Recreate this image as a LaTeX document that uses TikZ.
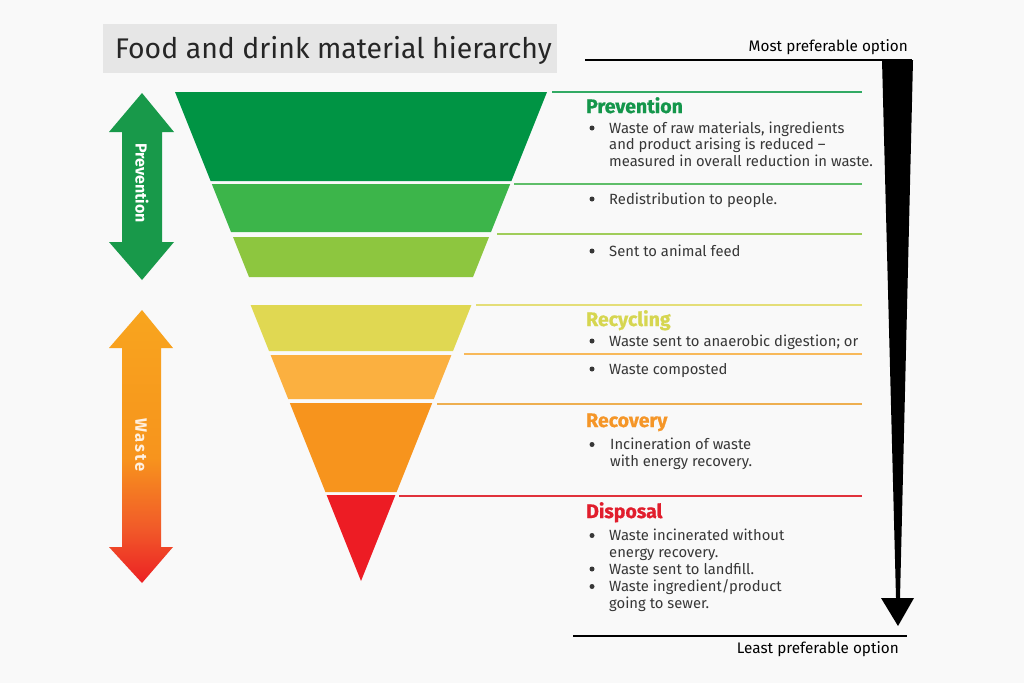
\documentclass[tikz,border=0pt]{standalone}
\usepackage{fontspec}
\setmainfont{Fira Sans}
\definecolor{paper}{RGB}{249,249,249}
\definecolor{titlebg}{RGB}{230,230,230}
\definecolor{bodytxt}{RGB}{55,55,55}
\definecolor{bandA}{RGB}{0,148,68}
\definecolor{bandB}{RGB}{60,181,74}
\definecolor{bandC}{RGB}{141,198,63}
\definecolor{bandD}{RGB}{224,216,82}
\definecolor{bandE}{RGB}{251,176,64}
\definecolor{bandF}{RGB}{247,148,29}
\definecolor{bandG}{RGB}{237,28,36}
\definecolor{ruleA}{RGB}{50,170,100}
\definecolor{ruleB}{RGB}{95,190,105}
\definecolor{ruleC}{RGB}{160,205,90}
\definecolor{ruleD}{RGB}{228,222,120}
\definecolor{ruleE}{RGB}{248,185,90}
\definecolor{ruleF}{RGB}{238,175,80}
\definecolor{ruleG}{RGB}{225,50,60}
\definecolor{prevgreen}{RGB}{24,153,74}
\definecolor{headgreen}{RGB}{20,150,75}
\definecolor{headyellow}{RGB}{214,214,80}
\definecolor{headorange}{RGB}{245,150,40}
\definecolor{headred}{RGB}{225,30,45}
\definecolor{wred}{RGB}{236,32,36}
\definecolor{wredor}{RGB}{241,90,41}
\definecolor{wor}{RGB}{247,148,29}
\definecolor{worlight}{RGB}{248,165,30}
\pgfdeclareverticalshading{wasteshade}{100bp}{color(0bp)=(wred); color(25bp)=(wred); color(35bp)=(wredor); color(48bp)=(wor); color(75bp)=(worlight); color(100bp)=(worlight)}
\begin{document}
\begin{tikzpicture}[x=1pt, y=-1pt,
    body/.style={font=\fontsize{14.8}{16.5}\selectfont, text=bodytxt, inner sep=0pt, anchor=base west, align=left},
    dot/.style={circle, fill=bodytxt, inner sep=0pt, minimum size=5pt},
    head/.style={font=\fontsize{19.5}{21}\selectfont\bfseries\addfontfeature{FakeBold=0.8}, inner sep=0pt, anchor=base west},
    ends/.style={font=\fontsize{15.3}{17}\selectfont, text=black, inner sep=0pt},
    side/.style={font=\fontsize{16}{17}\selectfont\bfseries, text=white, rotate=-90, inner sep=0pt},
    rule/.style={line width=1.4pt}]
\useasboundingbox (0,0) rectangle (1024,683);
\fill[paper] (0,0) rectangle (1024,683);

% title
\fill[titlebg] (103,24) rectangle (557,73);
\node(title) [inner sep=0pt, anchor=base west, font=\fontsize{28.4}{31}\selectfont, text=black!85] at (115,58) {Food and drink material hierarchy};

% funnel bands: top, bottom, apex of the cone, colour
\foreach \t/\b/\a/\c in {92/181/557/bandA, 184/232/557/bandB, 237/277/557/bandC,
                         305/351/581/bandD, 355/399/581/bandE, 403/492/581/bandF, 495/581/581/bandG}
  \fill[\c] ({361-0.4*(\a-\t)},\t) -- ({361+0.4*(\a-\t)},\t) -- ({361+0.4*(\a-\b)},\b) -- ({361-0.4*(\a-\b)},\b) -- cycle;

% rules to the right
\foreach \y/\x/\c in {92/552/ruleA, 184/514/ruleB, 234/497/ruleC, 305/476/ruleD,
                      354/464/ruleE, 404/437/ruleF, 496/399/ruleG}
  \draw[rule, \c] (\x,\y) -- (862,\y);

% left arrows
\fill[prevgreen] (142,93) -- (174,132) -- (162,132) -- (162,242) -- (174,242) -- (142,280)
  -- (109,242) -- (122,242) -- (122,132) -- (109,132) -- cycle;
\node(prevside) [side] at (142,183) {Prevention};
\shade[shading=wasteshade] (142,310) -- (173,348) -- (161,348) -- (161,547) -- (173,547) -- (142,583)
  -- (109,547) -- (122,547) -- (122,348) -- (109,348) -- cycle;
\node(wasteside) [side, text=white!88!orange, font=\fontsize{16.5}{17}\selectfont\bfseries\addfontfeature{LetterSpace=12}] at (141,445) {Waste};

% preference arrow
\draw[line width=1.6pt] (585,60) -- (912,60);
\draw[line width=1.6pt] (573,636) -- (907,636);
\fill[black] (882,60) -- (913,60) -- (900,598) -- (914,598) -- (898,626) -- (881,598) -- (896,598) -- cycle;
\node(most) [ends, anchor=base east] at (908,51) {Most preferable option};
\node(least) [ends, anchor=base east] at (899,653) {Least preferable option};

% prevention (multi-line nodes sit on the baseline of their last line)
\node(hprev) [head, text=headgreen] at (586,113) {Prevention};
\node(prev1) [body] at (609,166) {Waste of raw materials, ingredients\\and product arising is reduced --\\measured in overall reduction in waste.};
\node [dot] at ([xshift=-17pt, yshift=38pt]prev1.base west) {};
\node(prev2) [body] at (609,204) {Redistribution to people.};
\node [dot] at ([xshift=-17pt, yshift=5pt]prev2.base west) {};
\node(prev3) [body] at (609,256) {Sent to animal feed};
\node [dot] at ([xshift=-17pt, yshift=5pt]prev3.base west) {};

% recycling
\node(hrec) [head, text=headyellow] at (586,326) {Recycling};
\node(rec1) [body] at (609,346) {Waste sent to anaerobic digestion; or};
\node [dot] at ([xshift=-17pt, yshift=5pt]rec1.base west) {};
\node(rec2) [body] at (609,374) {Waste composted};
\node [dot] at ([xshift=-17pt, yshift=5pt]rec2.base west) {};

% recovery
\node(hrecov) [head, text=headorange] at (586,427) {Recovery};
\node(recov1) [body] at (610,466) {Incineration of waste\\with energy recovery.};
\node [dot] at ([xshift=-18pt, yshift=21.5pt]recov1.base west) {};

% disposal
\node(hdisp) [head, text=headred] at (586,518) {Disposal};
\node(disp1) [body] at (609,557) {Waste incinerated without\\energy recovery.};
\node [dot] at ([xshift=-17pt, yshift=21.5pt]disp1.base west) {};
\node(disp2) [body] at (609,574) {Waste sent to landfill.};
\node [dot] at ([xshift=-17pt, yshift=5pt]disp2.base west) {};
\node(disp3) [body] at (609,608) {Waste ingredient/product\\going to sewer.};
\node [dot] at ([xshift=-17pt, yshift=21.5pt]disp3.base west) {};
\end{tikzpicture}
\end{document}
